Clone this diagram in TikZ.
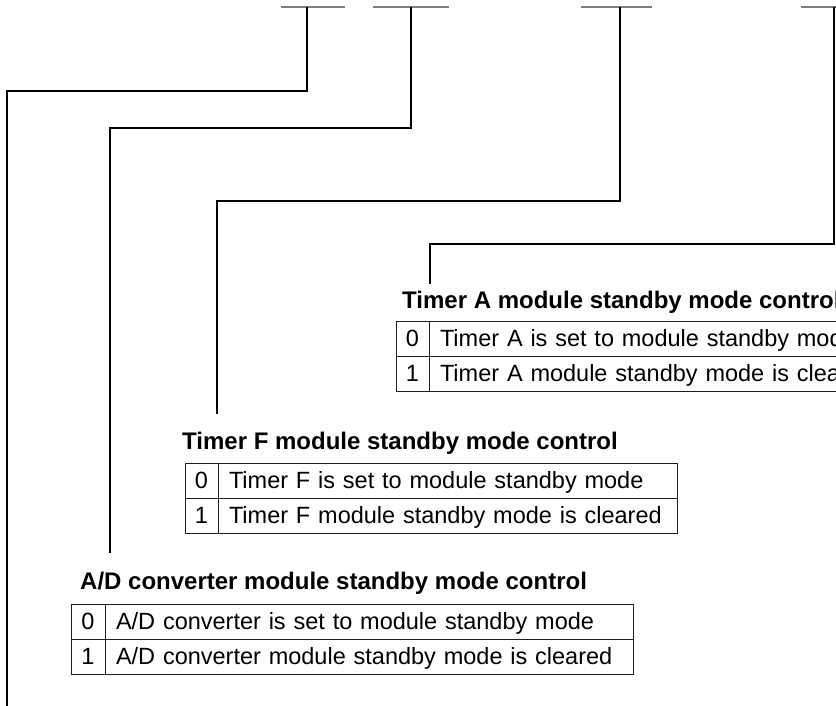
\documentclass[tikz,border=0pt]{standalone}
\usepackage{fontspec}
\setmainfont{Liberation Sans}
\usetikzlibrary{positioning}
\definecolor{bargray}{RGB}{128,128,128}
\definecolor{rulegray}{RGB}{30,30,30}
\tikzset{
  bitbar/.style={line width=2.5pt, color=bargray},
  leader/.style={line width=1.4pt, color=black},
  heading/.style={anchor=base west, inner sep=0pt,
    font=\fontsize{24}{28}\selectfont\bfseries},
  valcell/.style={rectangle, draw=rulegray, line width=1pt, outer sep=0pt,
    minimum width=33pt, minimum height=35pt, inner sep=0pt,
    text height=18pt, text depth=2pt, font=\fontsize{23.5}{28}\selectfont},
  desccell/.style={rectangle, draw=rulegray, line width=1pt, outer sep=0pt,
    minimum height=35pt, inner xsep=11pt, inner ysep=0pt,
    text width=#1, align=left,
    text height=18pt, text depth=2pt, font=\fontsize{23.5}{28}\selectfont}
}
\begin{document}
\begin{tikzpicture}[x=1pt, y=-1pt]
  \clip (0,0) rectangle (836,706);

  % bit bars
  \draw[bitbar] (281,7) -- (345,7);
  \draw[bitbar] (373,7) -- (449,7);
  \draw[bitbar] (581,7) -- (652,7);
  \draw[bitbar] (801,7) -- (836,7);
  \coordinate (bitX)  at (307,7);
  \coordinate (bitAD) at (411,7);
  \coordinate (bitF)  at (620,7);
  \coordinate (bitA)  at (834,7);

  % Timer A
  \node[heading] (hA) at (402,308) {Timer A module standby mode control};
  \coordinate (tA) at (430,284);
  \node[valcell, anchor=north west] (a0) at (396,321) {0};
  \node[valcell, below=0pt of a0] (a1) {1};
  \node[desccell=478pt, right=0pt of a0] (da0) {\mbox{Timer A is set to module standby mode}};
  \node[desccell=478pt, right=0pt of a1] (da1) {\mbox{Timer A module standby mode is cleared}};

  % Timer F
  \node[heading] (hF) at (182,449) {Timer F module standby mode control};
  \coordinate (tF) at (217,414);
  \node[valcell, anchor=north west] (f0) at (185,463) {0};
  \node[valcell, below=0pt of f0] (f1) {1};
  \node[desccell=437pt, right=0pt of f0] (df0) {\mbox{Timer F is set to module standby mode}};
  \node[desccell=437pt, right=0pt of f1] (df1) {\mbox{Timer F module standby mode is cleared}};

  % A/D converter
  \node[heading] (hAD) at (80,589) {A/D converter module standby mode control};
  \coordinate (tAD) at (110,553);
  \node[valcell, minimum width=34pt, anchor=north west] (d0) at (71,604) {0};
  \node[valcell, minimum width=34pt, below=0pt of d0] (d1) {1};
  \node[desccell=506pt, right=0pt of d0] (dd0) {\mbox{A/D converter is set to module standby mode}};
  \node[desccell=506pt, right=0pt of d1] (dd1) {\mbox{A/D converter module standby mode is cleared}};

  % leaders
  \coordinate (tX) at (7,706);
  \draw[leader] (bitX)  -- ++(0,84)  -| (tX);
  \draw[leader] (bitAD) -- ++(0,121) -| (tAD);
  \draw[leader] (bitF)  -- ++(0,194) -| (tF);
  \draw[leader] (bitA)  -- ++(0,237) -| (tA);
\end{tikzpicture}
\end{document}
